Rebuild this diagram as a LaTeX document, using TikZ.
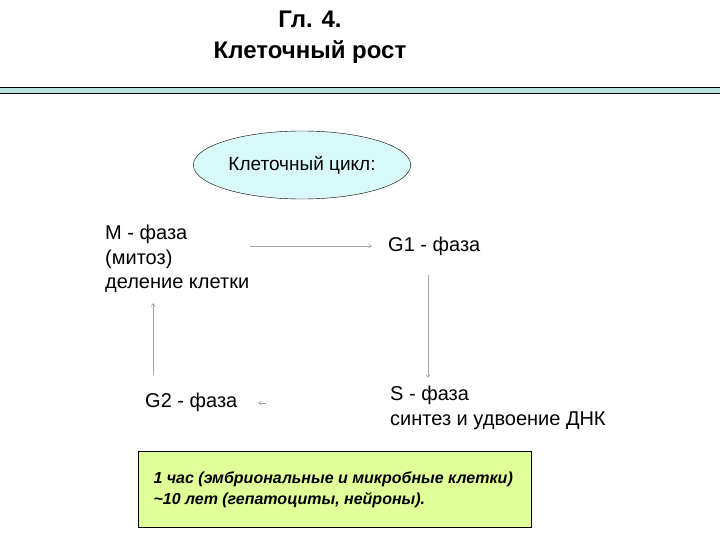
\documentclass[tikz,border=0pt]{standalone}
\usepackage{fontspec}
\setmainfont{Liberation Sans}
\usetikzlibrary{arrows.meta,shapes.geometric}
\definecolor{barfill}{HTML}{B8E4E0}
\definecolor{ellfill}{HTML}{D8F8FA}
\definecolor{boxfill}{HTML}{E0FF99}
\begin{document}
\begin{tikzpicture}[x=1pt,y=-1pt,
  lbl/.style={inner sep=0pt,anchor=west,font=\fontsize{20}{24}\selectfont,align=left},
  conn/.style={draw=gray!70,line width=0.6pt,-{Straight Barb[length=3pt,width=4pt]}}]
\useasboundingbox (0,0) rectangle (720,540);
\node[font=\fontsize{24}{31}\selectfont\bfseries,align=center] (title) at (310,37) {Гл. 4.\\Клеточный рост};
\draw[line width=1pt,fill=barfill] (-2,88) rectangle (722,94);
\node[draw,fill=ellfill,ellipse,minimum width=212,minimum height=68,font=\fontsize{19}{22}\selectfont] (cyc) at (302,165) {Клеточный цикл:};
\node[lbl,anchor=north west,font=\fontsize{20}{24.5}\selectfont] (M) at (105,225) {M - фаза\\(митоз)\\деление клетки};
\node[lbl] (G1) at (388,246) {G1 - фаза};
\node[lbl] (G2) at (145,402) {G2 - фаза};
\node[lbl,anchor=north west,font=\fontsize{20}{25}\selectfont] (S) at (390,386) {S - фаза\\синтез и удвоение ДНК};
\coordinate (a1) at (250,246); \coordinate (a2) at (372,246);
\coordinate (b1) at (428,275); \coordinate (b2) at (428,378);
\coordinate (c1) at (153,375); \coordinate (c2) at (153,303);
\coordinate (d1) at (266,403); \coordinate (d2) at (258,403);
\draw[conn] (a1) -- (a2);
\draw[conn] (b1) -- (b2);
\draw[conn] (c1) -- (c2);
\draw[conn] (d1) -- (d2);
\node[draw,fill=boxfill,minimum width=393,minimum height=76,inner sep=0pt] (box) at (334.5,489) {};
\node[anchor=west,align=left,font=\fontsize{16}{21}\selectfont\bfseries\itshape] (note) at (150,490) {1 час (эмбриональные и микробные клетки)\\\textasciitilde10 лет (гепатоциты, нейроны).};
\end{tikzpicture}
\end{document}
